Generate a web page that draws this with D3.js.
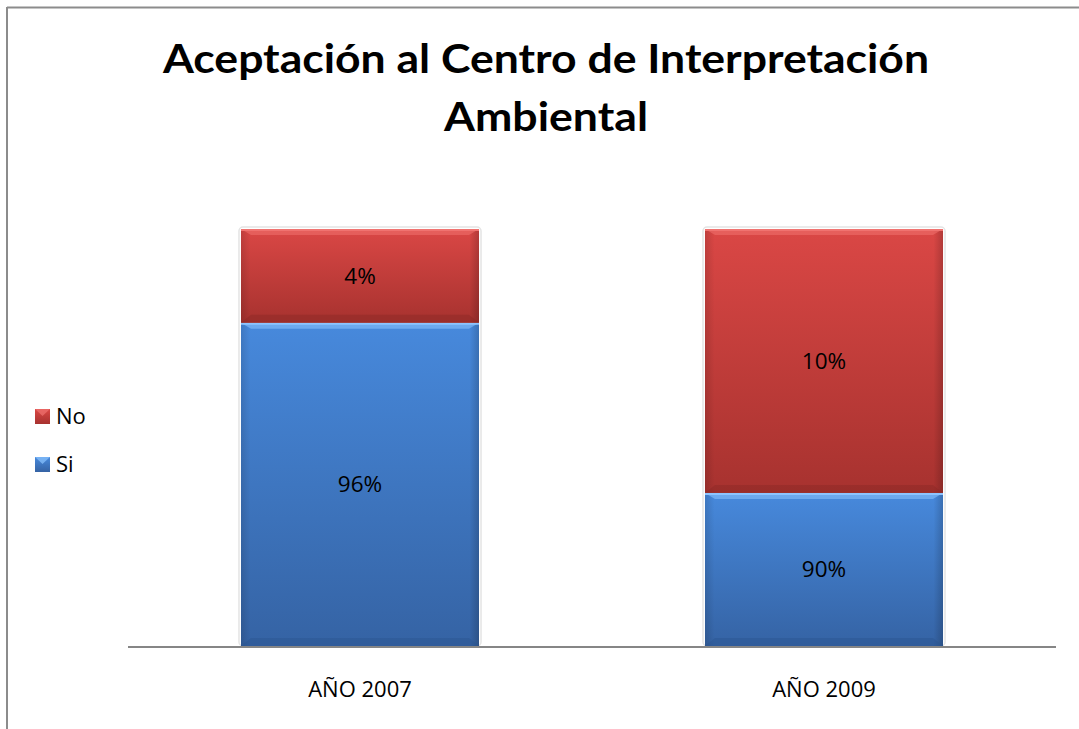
<!DOCTYPE html>
<html>
<head>
<meta charset="utf-8">
<script src="https://cdn.jsdelivr.net/npm/d3@7"></script>
<style>
  html, body { margin: 0; padding: 0; background: #fff; }
  svg { display: block; }
</style>
</head>
<body>
<svg id="chart" width="1079" height="729"></svg>
<script>
// ---- data ----
const categories = ["AÑO 2007", "AÑO 2009"];
const seriesNames = ["Si", "No"];
// bar segment shares as drawn (percent of stacked height)
const siValues = [77.5, 36.7];
const noValues = [22.5, 63.3];
// data labels as printed on the chart
const siLabels = ["96%", "90%"];
const noLabels = ["4%", "10%"];
const titleLines = ["Aceptación al Centro de Interpretación", "Ambiental"];

// ---- layout ----
const W = 1079, H = 729;
const plot = { left: 128, right: 1056, top: 229, bottom: 646 };
const svg = d3.select("#chart");

const defs = svg.append("defs");
function grad(id, stops) {
  const g = defs.append("linearGradient").attr("id", id)
    .attr("x1", 0).attr("y1", 0).attr("x2", 0).attr("y2", 1);
  stops.forEach(s => g.append("stop").attr("offset", s[0]).attr("stop-color", s[1]));
}
grad("gSi", [[0, "#4789dc"], [1, "#3563a4"]]);
grad("gNo", [[0, "#da4745"], [1, "#a7322f"]]);
const hg = defs.append("linearGradient").attr("id", "gHiH").attr("x1",0).attr("y1",0).attr("x2",1).attr("y2",0);
hg.append("stop").attr("offset", 0).attr("stop-color", "#000").attr("stop-opacity", 0.12);
hg.append("stop").attr("offset", 0.04).attr("stop-color", "#000").attr("stop-opacity", 0);
hg.append("stop").attr("offset", 0.96).attr("stop-color", "#000").attr("stop-opacity", 0);
hg.append("stop").attr("offset", 1).attr("stop-color", "#000").attr("stop-opacity", 0.18);

// frame
svg.append("line").attr("x1", 7).attr("y1", 7.5).attr("x2", 1079).attr("y2", 7.5)
  .attr("stroke", "#8c8c8c").attr("stroke-width", 2);
svg.append("line").attr("x1", 7).attr("y1", 7).attr("x2", 7).attr("y2", 729)
  .attr("stroke", "#8c8c8c").attr("stroke-width", 2);

// title
const title = svg.append("g");
title.append("text").attr("x", 546).attr("y", 73).attr("text-anchor", "middle")
  .attr("font-family", "Lato, 'Open Sans', sans-serif").attr("font-weight", "bold")
  .attr("font-size", 41).attr("textLength", 766).attr("lengthAdjust", "spacingAndGlyphs")
  .attr("fill", "#000").text(titleLines[0]);
title.append("text").attr("x", 546).attr("y", 131).attr("text-anchor", "middle")
  .attr("font-family", "Lato, 'Open Sans', sans-serif").attr("font-weight", "bold")
  .attr("font-size", 41).attr("textLength", 204).attr("lengthAdjust", "spacingAndGlyphs")
  .attr("fill", "#000").text(titleLines[1]);

// scales
const x = d3.scaleBand().domain(categories)
  .range([plot.left, plot.right]).paddingInner(0.487).paddingOuter(0.2435);
const y = d3.scaleLinear().domain([0, 100]).range([plot.bottom, plot.top]);

const rows = categories.map((c, i) => ({ cat: c, Si: siValues[i], No: noValues[i] }));
const stacked = d3.stack().keys(seriesNames)(rows);
const labels = { Si: siLabels, No: noLabels };
const fills = { Si: "url(#gSi)", No: "url(#gNo)" };
const hiTop = { Si: "#8cc4ff", No: "#f07370" };
const loBot = { Si: "#2b5590", No: "#8a2826" };

// bar shadows
svg.append("g").selectAll("rect").data(categories).join("rect")
  .attr("x", d => x(d) - 2).attr("y", y(100) - 2)
  .attr("width", x.bandwidth() + 4).attr("height", y(0) - y(100) + 2)
  .attr("fill", "none").attr("stroke", "#e4e4e4").attr("stroke-width", 1.5).attr("rx", 4);

const segs = svg.append("g");
stacked.forEach(layer => {
  const key = layer.key;
  layer.forEach((d, i) => {
    const x0 = x(categories[i]), bw = x.bandwidth();
    const yt = y(d[1]), yb = y(d[0]), h = yb - yt;
    const g = segs.append("g");
    g.append("rect").attr("x", x0).attr("y", yt).attr("width", bw).attr("height", h).attr("fill", fills[key]);
    g.append("rect").attr("x", x0).attr("y", yt).attr("width", bw).attr("height", h).attr("fill", "url(#gHiH)");
    // bevel top
    g.append("polygon").attr("points",
      `${x0},${yt} ${x0 + bw},${yt} ${x0 + bw - 10},${yt + 6} ${x0 + 10},${yt + 6}`)
      .attr("fill", hiTop[key]).attr("opacity", 0.55);
    // bevel bottom
    g.append("polygon").attr("points",
      `${x0},${yb} ${x0 + bw},${yb} ${x0 + bw - 10},${yb - 8} ${x0 + 10},${yb - 8}`)
      .attr("fill", loBot[key]).attr("opacity", 0.45);
    g.append("line").attr("x1", x0).attr("x2", x0 + bw).attr("y1", yt + 1).attr("y2", yt + 1)
      .attr("stroke", hiTop[key]).attr("stroke-width", 2);
    g.append("text").attr("x", x0 + bw / 2).attr("y", (yt + yb) / 2 + 8)
      .attr("text-anchor", "middle").attr("font-family", "'Open Sans', sans-serif")
      .attr("font-size", 22.5).attr("fill", "#000").text(labels[key][i]);
  });
});

// axis
const axis = svg.append("g").attr("transform", `translate(0,${plot.bottom})`)
  .call(d3.axisBottom(x).tickSize(0).tickPadding(38));
axis.select(".domain").attr("stroke", "#868686").attr("stroke-width", 2)
  .attr("d", `M${plot.left},1H${plot.right}`);
axis.selectAll("text").attr("font-family", "'Open Sans', sans-serif").attr("font-size", 22)
  .attr("fill", "#000").attr("dy", 0).attr("y", 51);

// legend
const legendItems = [{ name: "No", y: 409 }, { name: "Si", y: 457 }];
const lg = svg.append("g");
legendItems.forEach(it => {
  const key = it.name;
  lg.append("rect").attr("x", 35).attr("y", it.y).attr("width", 15).attr("height", 15).attr("fill", fills[key]);
  lg.append("polygon").attr("points", `35,${it.y} 50,${it.y} 42.5,${it.y + 7}`).attr("fill", hiTop[key]).attr("opacity", 0.7);
  lg.append("text").attr("x", 56).attr("y", it.y + 15).attr("font-family", "'Open Sans', sans-serif")
    .attr("font-size", 22).attr("fill", "#000").text(key);
});
</script>
</body>
</html>
